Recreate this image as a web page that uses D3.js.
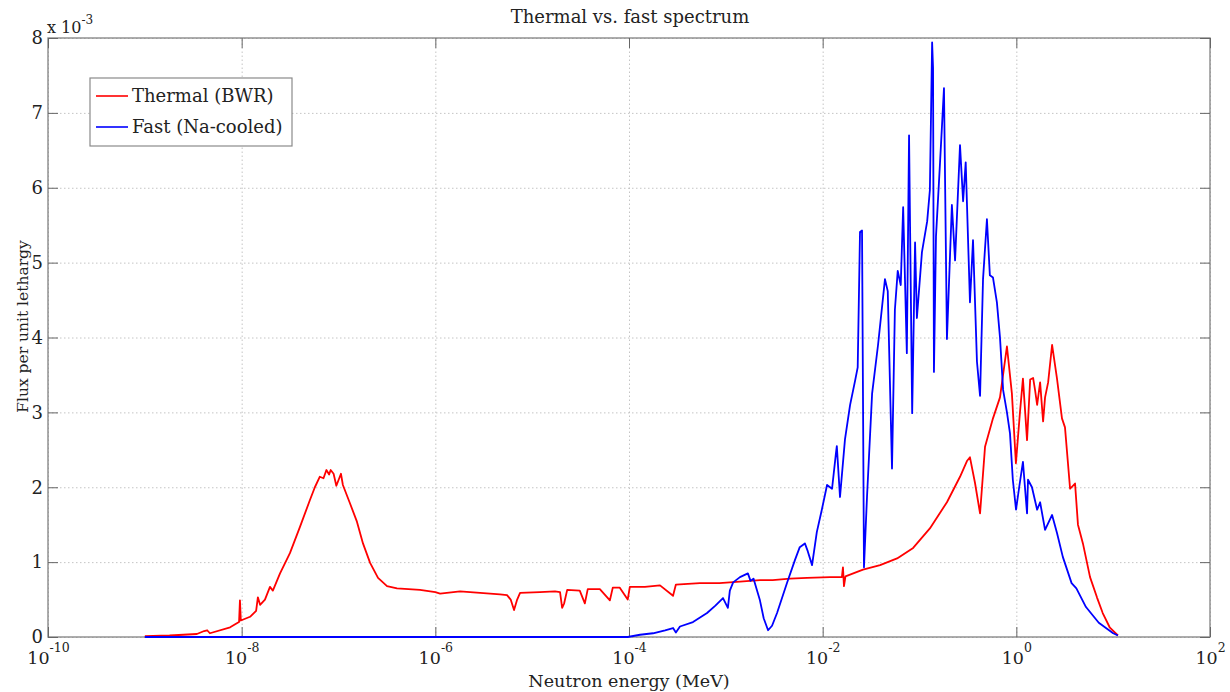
<!DOCTYPE html>
<html>
<head>
<meta charset="utf-8">
<script src="https://cdn.jsdelivr.net/npm/d3@7"></script>
<style>
body { margin: 0; background: #fff; }
text { font-family: "DejaVu Serif", serif; fill: #222; }
.grid line { stroke: #c4c4c4; stroke-dasharray: 1.5,2.5; }
.grid .domain { display: none; }
.axis line { stroke: #666; }
.axis .domain { display: none; }
</style>
</head>
<body>
<script>
var width = 1230;
var height = 692;

var padding = { top: 38, right: 20, bottom: 55, left: 48 };

// energies in MeV, flux per unit lethargy in units of 1e-3
var thermalEnergy = [
    1.0e-9, 1.8e-9, 3.45e-9, 4.1e-9, 4.4e-9, 4.7e-9, 7.6e-9, 9.1e-9, 9.4e-9, 9.6e-9, 9.8e-9,
    1.22e-8, 1.41e-8, 1.47e-8, 1.55e-8, 1.74e-8, 1.96e-8, 2.1e-8, 2.49e-8, 3.15e-8, 4.0e-8,
    5.07e-8, 5.7e-8, 6.4e-8, 7.0e-8, 7.5e-8, 8.0e-8, 8.3e-8, 8.9e-8, 9.5e-8,
    1.06e-7, 1.11e-7, 1.31e-7, 1.55e-7, 1.79e-7, 2.12e-7, 2.56e-7, 3.17e-7, 4.02e-7, 6.94e-7,
    1.0e-6, 1.12e-6, 1.8e-6, 2.9e-6, 4.66e-6, 5.5e-6, 6.0e-6, 6.5e-6, 7.0e-6, 7.5e-6,
    1.2e-5, 1.72e-5, 1.94e-5, 2.04e-5, 2.14e-5, 2.3e-5, 3.1e-5, 3.5e-5, 3.75e-5, 5.0e-5,
    6.35e-5, 6.8e-5, 8.0e-5, 9.7e-5, 1.02e-4, 1.46e-4, 2.09e-4, 2.85e-4, 3.05e-4, 5.4e-4,
    8.6e-4, 1.4e-3, 2.25e-3, 3.05e-3, 4.6e-3, 6.9e-3, 1.19e-2, 1.58e-2, 1.62e-2, 1.66e-2,
    1.72e-2, 2.61e-2, 3.92e-2, 5.87e-2, 8.6e-2, 0.128, 0.192, 0.262, 0.309, 0.332, 0.374,
    0.422, 0.475, 0.574, 0.678, 0.80, 0.90, 0.99, 1.09, 1.17, 1.29, 1.39, 1.49, 1.56, 1.64,
    1.76, 1.89, 1.98, 2.13, 2.34, 2.63, 2.96, 3.18, 3.59, 4.04, 4.33, 4.87, 5.77, 6.8, 7.8,
    9.2, 11.2
];
var thermalFlux = [
    0.01, 0.02, 0.04, 0.08, 0.09, 0.05, 0.13, 0.19, 0.20, 0.49, 0.22,
    0.27, 0.35, 0.53, 0.43, 0.50, 0.67, 0.62, 0.85, 1.12, 1.47,
    1.83, 2.00, 2.14, 2.12, 2.23, 2.17, 2.23, 2.18, 2.02,
    2.18, 2.03, 1.79, 1.54, 1.25, 0.99, 0.79, 0.68, 0.65, 0.63,
    0.60, 0.58, 0.61, 0.59, 0.57, 0.56, 0.50, 0.36, 0.50, 0.59,
    0.60, 0.61, 0.60, 0.39, 0.45, 0.63, 0.62, 0.45, 0.64, 0.64,
    0.49, 0.66, 0.66, 0.50, 0.67, 0.67, 0.69, 0.55, 0.70, 0.72,
    0.72, 0.74, 0.76, 0.76, 0.78, 0.79, 0.80, 0.80, 0.93, 0.68,
    0.81, 0.90, 0.96, 1.05, 1.19, 1.45, 1.80, 2.14, 2.35, 2.40, 2.06,
    1.65, 2.54, 2.92, 3.20, 3.88, 3.25, 2.32, 3.00, 3.45, 2.63, 3.44, 3.46, 3.30, 3.10,
    3.40, 2.88, 3.20, 3.40, 3.90, 3.45, 2.92, 2.80, 1.98, 2.05, 1.50, 1.25, 0.80, 0.53, 0.32,
    0.13, 0.02
];

var fastEnergy = [
    1.0e-9, 9.7e-5, 1.3e-4, 1.77e-4, 2.36e-4, 2.85e-4, 3.05e-4, 3.36e-4, 4.58e-4, 6.4e-4,
    7.8e-4, 9.35e-4, 1.05e-3, 1.1e-3, 1.19e-3, 1.4e-3, 1.69e-3, 1.8e-3, 1.93e-3, 2.25e-3,
    2.46e-3, 2.73e-3, 3.0e-3, 3.38e-3, 4.28e-3, 5.18e-3, 5.8e-3, 6.55e-3, 7.0e-3, 7.77e-3,
    8.7e-3, 9.8e-3, 1.11e-2, 1.25e-2, 1.37e-2, 1.4e-2, 1.51e-2, 1.7e-2, 1.92e-2, 2.16e-2,
    2.3e-2, 2.43e-2, 2.55e-2, 2.67e-2, 2.87e-2, 3.24e-2, 3.73e-2, 4.4e-2, 4.7e-2, 5.2e-2,
    5.57e-2, 5.96e-2, 6.4e-2, 6.78e-2, 7.4e-2, 7.8e-2, 8.4e-2, 9.0e-2, 9.4e-2, 0.106,
    0.120, 0.128, 0.135, 0.138, 0.141, 0.148, 0.163, 0.179, 0.192, 0.216,
    0.233, 0.262, 0.282, 0.300, 0.332, 0.357, 0.392, 0.422, 0.453, 0.497,
    0.533, 0.574, 0.630, 0.678, 0.730, 0.800, 0.860, 0.920, 0.993, 1.07,
    1.17, 1.29, 1.32, 1.45, 1.64, 1.76, 1.98, 2.34, 2.63, 3.02,
    3.72, 4.17, 5.24, 7.1, 10.0, 11.2
];
var fastFlux = [
    0.00, 0.00, 0.03, 0.05, 0.09, 0.12, 0.06, 0.14, 0.20, 0.32,
    0.42, 0.52, 0.39, 0.62, 0.73, 0.80, 0.85, 0.75, 0.78, 0.49,
    0.25, 0.09, 0.15, 0.32, 0.72, 1.03, 1.20, 1.25, 1.15, 0.96,
    1.40, 1.70, 2.03, 1.98, 2.45, 2.55, 1.87, 2.64, 3.10, 3.42,
    3.60, 5.41, 5.43, 0.93, 1.87, 3.25, 3.90, 4.78, 4.62, 2.25,
    4.37, 4.89, 4.70, 5.74, 3.79, 6.70, 2.99, 5.27, 4.26, 5.14,
    5.55, 5.97, 7.94, 7.60, 3.54, 5.35, 6.34, 7.33, 3.98, 5.77,
    5.03, 6.57, 5.82, 6.34, 4.47, 5.30, 3.68, 3.22, 4.78, 5.58,
    4.83, 4.80, 4.47, 4.00, 3.30, 3.00, 2.72, 2.10, 1.70, 2.00,
    2.34, 1.65, 2.10, 2.00, 1.70, 1.80, 1.43, 1.63, 1.39, 1.07,
    0.72, 0.65, 0.40, 0.19, 0.05, 0.02
];

var xTicks = [1e-10, 1e-8, 1e-6, 1e-4, 1e-2, 1e0, 1e2];
var xTickExponents = ['-10', '-8', '-6', '-4', '-2', '0', '2'];
var yTicks = [0, 1, 2, 3, 4, 5, 6, 7, 8];

var seriesNames = ['Thermal (BWR)', 'Fast (Na-cooled)'];
var seriesColors = ['#ff0000', '#0000ff'];

var plotW = width - padding.left - padding.right;
var plotH = height - padding.top - padding.bottom;

var xScale = d3.scaleLog()
    .domain([1e-10, 1e2])
    .range([0, plotW]);

var yScale = d3.scaleLinear()
    .domain([0, 8])
    .range([plotH, 0]);

var svg = d3.select('body')
    .append('svg')
    .attr('width', width)
    .attr('height', height);

var g = svg.append('g')
    .attr('transform', 'translate(' + padding.left + ',' + padding.top + ')');

// dotted grid
g.append('g')
    .attr('class', 'grid')
    .attr('transform', 'translate(0,' + plotH + ')')
    .call(d3.axisBottom(xScale).tickValues(xTicks).tickSize(-plotH).tickFormat(''));

g.append('g')
    .attr('class', 'grid')
    .call(d3.axisLeft(yScale).tickValues(yTicks).tickSize(-plotW).tickFormat(''));

// box
g.append('rect')
    .attr('width', plotW)
    .attr('height', plotH)
    .attr('fill', 'none')
    .attr('stroke', '#8a8a8a')
    .attr('stroke-width', 1.4);

// ticks on all four sides, pointing in
var xAxis = g.append('g')
    .attr('class', 'axis')
    .attr('transform', 'translate(0,' + plotH + ')')
    .call(d3.axisBottom(xScale).tickValues(xTicks).tickSizeInner(-10).tickSizeOuter(0).tickPadding(15).tickFormat(''));

xAxis.selectAll('.tick text')
    .attr('font-size', 17.5)
    .each(function(d, i) {
        var t = d3.select(this);
        t.append('tspan').text('10');
        t.append('tspan').attr('dy', -12).attr('font-size', 12.5).text(xTickExponents[i]);
    });

g.append('g')
    .attr('class', 'axis')
    .call(d3.axisTop(xScale).tickValues(xTicks).tickSizeInner(-10).tickSizeOuter(0).tickFormat(''));

g.append('g')
    .attr('class', 'axis')
    .call(d3.axisLeft(yScale).tickValues(yTicks).tickSizeInner(-10).tickSizeOuter(0).tickPadding(5))
    .selectAll('.tick text')
    .attr('font-size', 18)
    .attr('font-family', '"DejaVu Serif", serif');

g.append('g')
    .attr('class', 'axis')
    .attr('transform', 'translate(' + plotW + ',0)')
    .call(d3.axisRight(yScale).tickValues(yTicks).tickSizeInner(-10).tickSizeOuter(0).tickFormat(''));

// curves
var linePath = d3.line()
    .x(function(d) { return xScale(d[0]); })
    .y(function(d) { return yScale(d[1]); });

svg.append('clipPath').attr('id', 'plot-clip')
    .append('rect').attr('width', plotW).attr('height', plotH + 2).attr('y', -1);

var curves = [d3.zip(thermalEnergy, thermalFlux), d3.zip(fastEnergy, fastFlux)];

g.append('g')
    .attr('clip-path', 'url(#plot-clip)')
    .selectAll('path')
    .data(curves)
    .enter()
    .append('path')
    .attr('d', linePath)
    .attr('fill', 'none')
    .attr('stroke', function(d, i) { return seriesColors[i]; })
    .attr('stroke-width', 1.8)
    .attr('stroke-linejoin', 'round');

// exponent multiplier
var mult = svg.append('text')
    .attr('x', padding.left - 1)
    .attr('y', 33)
    .attr('font-size', 16);
mult.append('tspan').text('x 10');
mult.append('tspan').attr('dy', -9).attr('font-size', 12).text('-3');

// title and axis labels
svg.append('text')
    .attr('x', 630)
    .attr('y', 23)
    .attr('text-anchor', 'middle')
    .attr('font-size', 18)
    .text('Thermal vs. fast spectrum');

svg.append('text')
    .attr('x', padding.left + plotW / 2)
    .attr('y', 687)
    .attr('text-anchor', 'middle')
    .attr('font-size', 17.5)
    .text('Neutron energy (MeV)');

svg.append('text')
    .attr('transform', 'translate(28,' + (padding.top + plotH / 2 - 11) + ') rotate(-90)')
    .attr('text-anchor', 'middle')
    .attr('font-size', 15.5)
    .text('Flux per unit lethargy');

// legend
var legend = svg.append('g')
    .attr('transform', 'translate(90,78)');

legend.append('rect')
    .attr('width', 202)
    .attr('height', 68)
    .attr('fill', '#fff')
    .attr('stroke', '#8a8a8a')
    .attr('stroke-width', 1.2);

var items = legend.selectAll('.item')
    .data(seriesNames)
    .enter()
    .append('g')
    .attr('class', 'item')
    .attr('transform', function(d, i) { return 'translate(0,' + (18 + i * 31) + ')'; });

items.append('line')
    .attr('x1', 6)
    .attr('x2', 38)
    .attr('stroke', function(d, i) { return seriesColors[i]; })
    .attr('stroke-width', 1.6);

items.append('text')
    .attr('x', 42)
    .attr('y', 6)
    .attr('font-size', 18)
    .text(function(d) { return d; });
</script>
</body>
</html>
